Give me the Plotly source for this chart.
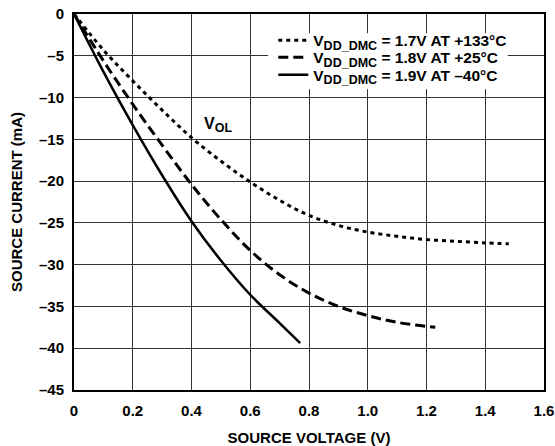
import plotly.graph_objects as go

# Data
v_133 = [0, 0.1, 0.2, 0.3, 0.4, 0.5, 0.6, 0.7, 0.8, 0.9, 1.0, 1.1, 1.2, 1.3, 1.4, 1.48]
i_133 = [0, -4.3, -8.0, -11.5, -14.8, -17.6, -20.1, -22.3, -24.1, -25.3, -26.1, -26.6, -27.0, -27.2, -27.4, -27.5]

v_25 = [0, 0.1, 0.2, 0.3, 0.4, 0.5, 0.6, 0.7, 0.8, 0.9, 1.0, 1.1, 1.23]
i_25 = [0, -5.6, -10.8, -15.7, -20.4, -24.6, -28.3, -31.2, -33.4, -35.0, -36.1, -36.9, -37.5]

v_m40 = [0, 0.1, 0.2, 0.3, 0.4, 0.5, 0.6, 0.7, 0.77]
i_m40 = [0, -6.9, -13.3, -19.3, -24.8, -29.5, -33.6, -37.0, -39.4]

SUB = '<sub><span style="font-size:12.5px">DD_DMC</span></sub>'
names = ["<b>V" + SUB + " = 1.7V AT +133°C</b>",
         "<b>V" + SUB + " = 1.8V AT +25°C</b>",
         "<b>V" + SUB + " = 1.9V AT \u201340°C</b>"]

x_ticks = [0, 0.2, 0.4, 0.6, 0.8, 1.0, 1.2, 1.4, 1.6]
x_ticktext = ["0", "0.2", "0.4", "0.6", "0.8", "1.0", "1.2", "1.4", "1.6"]
y_ticks = [0, -5, -10, -15, -20, -25, -30, -35, -40, -45]
y_ticktext = ["0", "\u20135", "\u201310", "\u201315", "\u201320", "\u201325", "\u201330", "\u201335", "\u201340", "\u201345"]

FONT = "Liberation Sans, Arial, sans-serif"

fig = go.Figure()
fig.add_trace(go.Scatter(x=v_133, y=i_133, mode="lines", name=names[0], legend="legend",
                         line=dict(color="black", width=3, dash="4px,4px", shape="spline")))
fig.add_trace(go.Scatter(x=v_25, y=i_25, mode="lines", name=names[1], legend="legend2",
                         line=dict(color="black", width=3, dash="10px,5px", shape="spline")))
fig.add_trace(go.Scatter(x=v_m40, y=i_m40, mode="lines", name=names[2], legend="legend3",
                         line=dict(color="black", width=2.5, shape="spline")))

fig.add_annotation(x=0.489, y=-13.3, text='<b>V<sub><span style="font-size:12.5px">OL</span></sub></b>',
                   showarrow=False, font=dict(family=FONT, size=16, color="black"))

# white backing box behind the legend (covers gridlines like the original)
fig.add_shape(type="rect", xref="paper", yref="paper", x0=0.413, x1=0.923, y0=0.80, y1=0.949,
              fillcolor="white", line=dict(width=0), layer="above")

axis_common = dict(showgrid=True, gridcolor="#333333", gridwidth=1.3, showline=True,
                   linecolor="black", linewidth=2, mirror=True, ticks="",
                   zeroline=False,
                   tickfont=dict(family=FONT, size=15, color="black", weight="bold"))

fig.update_xaxes(range=[0, 1.6], tickmode="array", tickvals=x_ticks, ticktext=x_ticktext,
                 ticklabelstandoff=6,
                 title=dict(text="<b>SOURCE VOLTAGE (V)</b>", font=dict(family=FONT, size=15, color="black"), standoff=14),
                 **axis_common)
fig.update_yaxes(range=[-45, 0], tickmode="array", tickvals=y_ticks, ticktext=y_ticktext,
                 ticklabelstandoff=5,
                 title=dict(text="<b>SOURCE CURRENT (mA)</b>", font=dict(family=FONT, size=15, color="black"), standoff=13),
                 **axis_common)

leg_common = dict(xanchor="left", yanchor="middle", bgcolor="rgba(0,0,0,0)", borderwidth=0,
                  font=dict(family=FONT, size=15.5, color="black"), itemwidth=30)

fig.update_layout(
    template="none",
    width=555, height=446,
    margin=dict(l=74, r=11, t=14, b=56),
    paper_bgcolor="white", plot_bgcolor="white",
    font=dict(family=FONT, size=15, color="black"),
    showlegend=True,
    legend=dict(x=0.424, y=0.929, **leg_common),
    legend2=dict(x=0.424, y=0.884, **leg_common),
    legend3=dict(x=0.424, y=0.837, **leg_common),
)

fig.write_html("out.html", config={"displayModeBar": False},
               post_script="document.body.style.margin='0';")
